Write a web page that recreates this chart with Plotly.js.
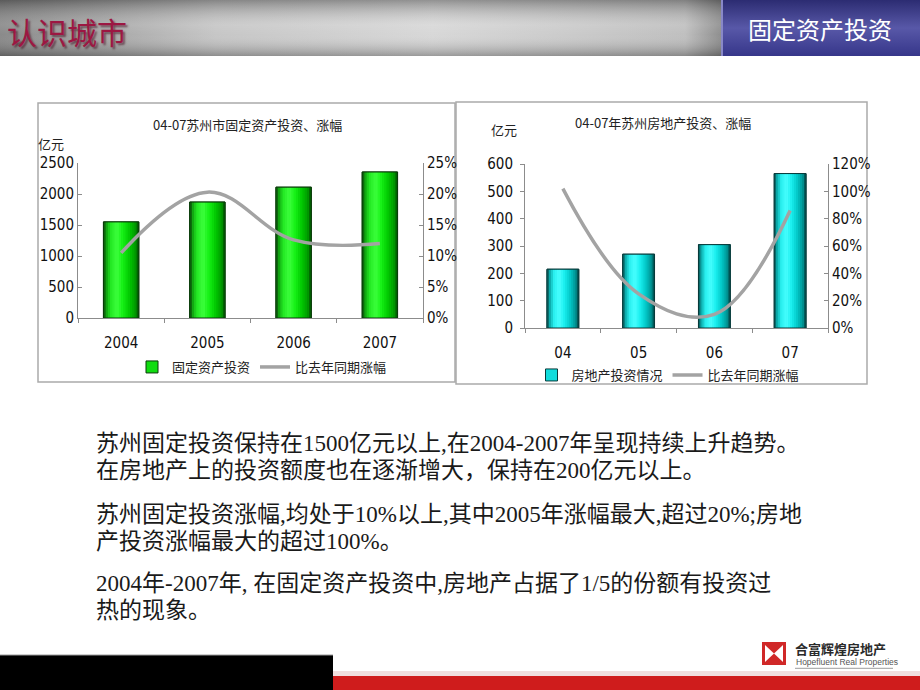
<!DOCTYPE html>
<html>
<head>
<meta charset="utf-8">
<script src="https://cdn.plot.ly/plotly-3.0.1.min.js"></script>
<style>html,body{margin:0;padding:0;background:#fff;}#chart{width:920px;height:690px;}</style>
</head>
<body>
<div id="chart"></div>
<script>
// ---------- data ----------
const years = ['2004', '2005', '2006', '2007'];
const fixedInvest = [1550, 1870, 2110, 2355];          // 亿元
const fixedGrowth = [0.105, 0.203, 0.126, 0.120];      // 比去年同期涨幅
const reYears = ['04', '05', '06', '07'];
const reInvest = [215, 270, 305, 565];                 // 亿元
const reGrowth = [1.02, 0.25, 0.10, 0.86];             // 比去年同期涨幅

const leftTitle = '04-07苏州市固定资产投资、涨幅';
const rightTitle = '04-07年苏州房地产投资、涨幅';
const unitLabel = '亿元';
const fixedName = '固定资产投资';
const reName = '房地产投资情况';
const growthName = '比去年同期涨幅';

const bodyLines = [
  '苏州固定投资保持在1500亿元以上,在2004-2007年呈现持续上升趋势。',
  '在房地产上的投资额度也在逐渐增大，保持在200亿元以上。',
  '苏州固定投资涨幅,均处于10%以上,其中2005年涨幅最大,超过20%;房地',
  '产投资涨幅最大的超过100%。',
  '2004年-2007年, 在固定资产投资中,房地产占据了1/5的份额有投资过',
  '热的现象。'
];

// ---------- helpers ----------
const W = 920, H = 690;
const px = x => x / W;
const py = y => 1 - y / H;
const F_CJK = "'Noto Sans CJK SC', sans-serif";
const F_BODY = "'Liberation Serif', 'Noto Sans CJK SC', serif";
const F_TICK = "'Liberation Sans Narrow', 'Arial Narrow', 'DejaVu Sans Condensed', sans-serif";

function hex2rgb(h){ h=h.replace('#',''); return [0,2,4].map(i=>parseInt(h.substr(i,2),16)); }
function interp(stops, t){
  for (let i=0;i<stops.length-1;i++){
    const [a,ca]=stops[i],[b,cb]=stops[i+1];
    if (t>=a && t<=b){
      const f=(t-a)/(b-a), A=hex2rgb(ca), B=hex2rgb(cb);
      const c=A.map((v,k)=>Math.round(v+(B[k]-v)*f));
      return 'rgb('+c.join(',')+')';
    }
  }
  return stops[stops.length-1][1];
}

function makeBars(x, y, xa, ya, Wd, stops, name, legendId, swatch, edge){
  const traces = [];
  traces.push({type:'bar', x:x, y:y, xaxis:xa, yaxis:ya, width:Wd, name:name, legend:legendId,
    marker:{color:swatch, line:{color:edge, width:1}}, hoverinfo:'skip'});
  const N = 16;
  for (let i=0;i<N;i++){
    const t=(i+0.5)/N;
    traces.push({type:'bar', x:x, y:y, xaxis:xa, yaxis:ya,
      width: i<N-1 ? Wd/N*1.25 : Wd/N, offset:-Wd/2 + i*Wd/N,
      marker:{color:interp(stops,t), line:{width:0}}, showlegend:false, hoverinfo:'skip'});
  }
  traces.push({type:'bar', x:x, y:y, xaxis:xa, yaxis:ya, width:Wd,
    marker:{color:'rgba(0,0,0,0)', line:{color:edge, width:1}}, showlegend:false, hoverinfo:'skip'});
  return traces;
}

const greenStops = [[0,'#0b3f0b'],[0.07,'#0f9a0f'],[0.2,'#22e822'],[0.38,'#3cff3c'],[0.55,'#14f014'],[0.75,'#00c400'],[0.9,'#009a00'],[1,'#004a00']];
const cyanStops  = [[0,'#064848'],[0.08,'#0aa6a6'],[0.22,'#2af0f0'],[0.38,'#48ffff'],[0.55,'#18eeee'],[0.75,'#00c2c2'],[0.9,'#009292'],[1,'#003e3e']];

let data = [];
data = data.concat(makeBars(years, fixedInvest, 'x', 'y', 0.41, greenStops, fixedName, 'legend', '#10dc10', '#0a3a0a'));
data.push({type:'scatter', mode:'lines', x:years, y:fixedGrowth, xaxis:'x', yaxis:'y2', name:growthName, legend:'legend',
  line:{color:'#a3a3a3', width:3.5, shape:'spline', smoothing:1.1}, hoverinfo:'skip'});
data = data.concat(makeBars(reYears, reInvest, 'x2', 'y3', 0.42, cyanStops, reName, 'legend2', '#10dcdc', '#083a3a'));
data.push({type:'scatter', mode:'lines', x:reYears, y:reGrowth, xaxis:'x2', yaxis:'y4', name:growthName, legend:'legend2',
  line:{color:'#a3a3a3', width:3.5, shape:'spline', smoothing:1.1}, hoverinfo:'skip'});

// ---------- axes ----------
const axLine = '#8c8c8c';
const tickFont = {family:F_TICK, size:15, color:'#111'};
const baseX = {type:'category', range:[-0.5,3.5], showline:true, linecolor:axLine, linewidth:1, ticks:'outside',
  tickson:'boundaries', ticklen:4, tickcolor:axLine, tickfont:tickFont, ticklabelstandoff:11,
  showgrid:false, zeroline:false, fixedrange:true};
const baseY = {showline:true, linecolor:axLine, linewidth:1, ticks:'inside', ticklen:4, tickcolor:axLine,
  tickfont:tickFont, showgrid:false, zeroline:false, fixedrange:true, tick0:0};

// ---------- header image (gradient decoration) ----------
const headerSvg = "<svg xmlns='http://www.w3.org/2000/svg' width='920' height='56' viewBox='0 0 920 56' preserveAspectRatio='none'>" +
 "<defs>" +
 "<linearGradient id='h' x1='0' x2='1' y1='0' y2='0'><stop offset='0' stop-color='#858585'/><stop offset='0.3' stop-color='#c4c4c4'/><stop offset='0.6' stop-color='#d6d6d6'/><stop offset='0.95' stop-color='#bdbdbd'/><stop offset='1' stop-color='#8a8a8a'/></linearGradient>" +
 "<linearGradient id='v' x1='0' x2='0' y1='0' y2='1'><stop offset='0' stop-color='#000' stop-opacity='0.32'/><stop offset='0.45' stop-color='#fff' stop-opacity='0.12'/><stop offset='0.62' stop-color='#fff' stop-opacity='0.04'/><stop offset='1' stop-color='#000' stop-opacity='0.28'/></linearGradient>" +
 "<linearGradient id='b' x1='0' x2='0' y1='0' y2='1'><stop offset='0' stop-color='#2c2c72'/><stop offset='0.5' stop-color='#5858a8'/><stop offset='1' stop-color='#36368a'/></linearGradient>" +
 "</defs>" +
 "<rect width='721' height='56' fill='url(#h)'/><rect width='721' height='56' fill='url(#v)'/>" +
 "<rect x='721' width='199' height='56' fill='url(#b)'/><rect x='721' width='2' height='56' fill='#8888c8'/>" +
 "</svg>";

// ---------- shapes ----------
const shapes = [
  {type:'rect', xref:'paper', yref:'paper', x0:px(38), x1:px(455), y0:py(382), y1:py(103), line:{color:'#aaaaaa', width:1.5}, layer:'below'},
  {type:'rect', xref:'paper', yref:'paper', x0:px(456), x1:px(867), y0:py(384), y1:py(102), line:{color:'#aaaaaa', width:1.5}, layer:'below'},
  {type:'rect', xref:'paper', yref:'paper', x0:0, x1:px(333), y0:0, y1:py(655), fillcolor:'#000', line:{width:0}},
  {type:'line', xref:'paper', yref:'paper', x0:0, x1:px(333), y0:py(655), y1:py(655), line:{color:'#9a9a9a', width:1}},
  {type:'rect', xref:'paper', yref:'paper', x0:px(333), x1:1, y0:0, y1:py(676), fillcolor:'#cf1c1c', line:{width:0}},
  {type:'rect', xref:'paper', yref:'paper', x0:px(333), x1:1, y0:py(676), y1:py(671), fillcolor:'#f0dede', line:{width:0}},
  // logo icon
  {type:'rect', xref:'paper', yref:'paper', x0:px(762), x1:px(786), y0:py(665), y1:py(642), fillcolor:'#d02828', line:{width:0}},
  {type:'rect', xref:'paper', yref:'paper', x0:px(765), x1:px(783), y0:py(662), y1:py(645), fillcolor:'#ffffff', line:{width:0}},
  {type:'path', xref:'paper', yref:'paper', path:'M'+px(765)+','+py(645)+' L'+px(783)+','+py(645)+' L'+px(774)+','+py(653.5)+' Z', fillcolor:'#d02828', line:{width:0}},
  {type:'path', xref:'paper', yref:'paper', path:'M'+px(765)+','+py(662)+' L'+px(783)+','+py(662)+' L'+px(774)+','+py(653.5)+' Z', fillcolor:'#d02828', line:{width:0}},
  {type:'rect', xref:'paper', yref:'paper', x0:px(795), x1:px(893), y0:py(669), y1:py(667.8), fillcolor:'#b0b0b0', line:{width:0}}
];

// ---------- annotations ----------
const ann = [];
function txt(text, x, y, size, color, family, xanchor, extra){
  const a = {text:text, xref:'paper', yref:'paper', x:px(x), y:py(y), xanchor:xanchor||'left', yanchor:'middle',
    showarrow:false, font:Object.assign({size:size, color:color, family:family}, extra||{})};
  ann.push(a);
}
txt('认识城市', 5, 31, 30, '#9c1742', F_CJK, 'left', {shadow:'2px 2px 2px rgba(60,0,20,0.55)'});
txt('固定资产投资', 820, 28, 24, '#ffffff', F_CJK, 'center');
txt(leftTitle, 247, 124, 13, '#222', F_CJK, 'center');
txt(rightTitle, 663, 123, 13, '#222', F_CJK, 'center');
txt(unitLabel, 51, 143, 13, '#222', F_CJK, 'center');
txt(unitLabel, 504, 129, 13, '#222', F_CJK, 'center');
const bodyY = [443, 470, 514, 541, 583, 610];
bodyLines.forEach((l,i)=>txt(l, 94, bodyY[i], 23, '#1a1a1a', F_BODY, 'left'));
txt('<b>合富辉煌房地产</b>', 793, 648, 13, '#2a2a2a', F_CJK, 'left');
txt('Hopefluent Real Properties', 794, 662, 8.5, '#555', "'Liberation Sans', sans-serif", 'left');

const legendFont = {family:F_CJK, size:13, color:'#222'};

const layout = {
  width:W, height:H, autosize:false,
  margin:{l:0, r:0, t:0, b:0, pad:0},
  paper_bgcolor:'#ffffff', plot_bgcolor:'rgba(0,0,0,0)',
  barmode:'overlay', hovermode:false,
  xaxis: Object.assign({}, baseX, {domain:[px(78), px(423)], anchor:'y'}),
  yaxis: Object.assign({}, baseY, {domain:[py(318), py(163)], anchor:'x', range:[0,2500], dtick:500}),
  yaxis2: Object.assign({}, baseY, {overlaying:'y', side:'right', anchor:'x', range:[0,0.25], dtick:0.05, tickformat:'.0%'}),
  xaxis2: Object.assign({}, baseX, {domain:[px(525), px(828)], anchor:'y3'}),
  yaxis3: Object.assign({}, baseY, {domain:[py(328), py(164)], anchor:'x2', range:[0,600], dtick:100, ticks:'outside', ticklabelstandoff:4}),
  yaxis4: Object.assign({}, baseY, {overlaying:'y3', side:'right', anchor:'x2', range:[0,1.2], dtick:0.2, tickformat:'.0%'}),
  legend:{orientation:'h', x:px(262), xanchor:'center', y:py(367), yanchor:'middle', font:legendFont, bgcolor:'rgba(0,0,0,0)', itemwidth:30, traceorder:'normal'},
  legend2:{orientation:'h', x:px(668), xanchor:'center', y:py(375), yanchor:'middle', font:legendFont, bgcolor:'rgba(0,0,0,0)', itemwidth:30, traceorder:'normal'},
  showlegend:true,
  shapes:shapes,
  annotations:ann,
  images:[{source:'data:image/svg+xml;charset=utf-8,'+encodeURIComponent(headerSvg), xref:'paper', yref:'paper',
    x:0, y:1, sizex:1, sizey:56/H, xanchor:'left', yanchor:'top', sizing:'stretch', layer:'below'}]
};

Plotly.newPlot('chart', data, layout, {displayModeBar:false, staticPlot:true});
</script>
</body>
</html>
